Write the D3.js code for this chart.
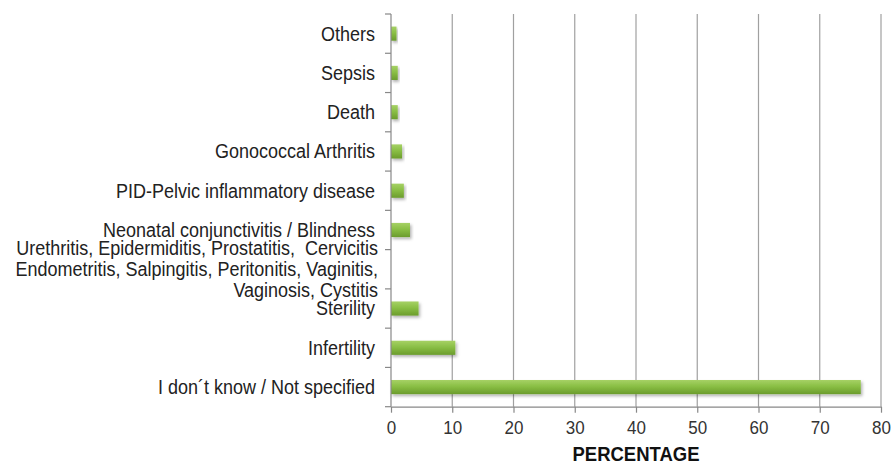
<!DOCTYPE html>
<html><head><meta charset="utf-8">
<script src="https://cdn.jsdelivr.net/npm/d3@7"></script>
<style>body{margin:0;background:#fff}svg{display:block}text{font-family:"Liberation Sans",Arial,sans-serif}</style>
</head><body><svg id="c" width="895" height="465"></svg>
<script>
const categories = ["Others","Sepsis","Death","Gonococcal Arthritis","PID-Pelvic inflammatory disease","Neonatal conjunctivitis / Blindness","Urethritis, Epidermiditis, Prostatitis,  Cervicitis\nEndometritis, Salpingitis, Peritonitis, Vaginitis,\nVaginosis, Cystitis","Sterility","Infertility","I don´t know / Not specified"];
const values = [0.9,1.1,1.1,1.8,2.1,3.1,0,4.5,10.5,76.7];
const xTicks = [0,10,20,30,40,50,60,70,80];
const xTitle = "PERCENTAGE";

const svg = d3.select("#c");
const defs = svg.append("defs");
const g1 = defs.append("linearGradient").attr("id","bg").attr("x1",0).attr("y1",0).attr("x2",0).attr("y2",1);
g1.append("stop").attr("offset","0%").attr("stop-color","#a6d165");
g1.append("stop").attr("offset","45%").attr("stop-color","#8abf45");
g1.append("stop").attr("offset","100%").attr("stop-color","#6b9c2c");
const f = defs.append("filter").attr("id","sh").attr("x","-10%").attr("y","-50%").attr("width","130%").attr("height","250%");
f.append("feDropShadow").attr("dx",1.5).attr("dy",2).attr("stdDeviation",1.5).attr("flood-color","#000").attr("flood-opacity",0.3);

const x = d3.scaleLinear().domain([0,80]).range([391,881]);
const y = d3.scaleBand().domain(categories).range([14,406.7]).paddingInner(0.64).paddingOuter(0.32);
const SY = 1.1;

// gridlines
svg.append("g").selectAll("line").data(xTicks.filter(d=>d>0)).join("line")
  .attr("x1",d=>x(d)).attr("x2",d=>x(d)).attr("y1",14).attr("y2",406.7)
  .attr("stroke","#a0a0a0").attr("stroke-width",1.2);

// bars
svg.append("g").selectAll("rect").data(categories).join("rect")
  .attr("x",x(0)).attr("y",d=>y(d)).attr("height",y.bandwidth())
  .attr("width",(d,i)=>x(values[i])-x(0))
  .attr("fill","url(#bg)").attr("filter","url(#sh)");

// y axis
const step = y.step();
const bounds = categories.map(d=>y(d)-step*0.32).concat([y(categories[categories.length-1])+y.bandwidth()+step*0.32]);
const ya = svg.append("g");
ya.append("line").attr("x1",391).attr("x2",391).attr("y1",14).attr("y2",406.7).attr("stroke","#888").attr("stroke-width",1.2);
ya.selectAll("line.t").data(bounds).join("line").attr("class","t")
  .attr("x1",385).attr("x2",391).attr("y1",d=>d).attr("y2",d=>d).attr("stroke","#888").attr("stroke-width",1.2);
const labs = ya.selectAll("text").data(categories).join("text")
  .attr("text-anchor","end").attr("font-size",18).attr("fill","#222")
  .attr("transform",d=>`translate(${d.includes("\n")?378:375},${y(d)+y.bandwidth()/2}) scale(1,${SY})`);
labs.each(function(d){
  const lines=d.split("\n"); const t=d3.select(this); const lh=19;
  lines.forEach((l,i)=>t.append("tspan").attr("x",0).attr("y",(i-(lines.length-1)/2)*lh).attr("dy","0.35em").attr("xml:space","preserve").text(l));
});

// x axis
const xa = svg.append("g").attr("transform","translate(0,406.7)")
  .call(d3.axisBottom(x).tickValues(xTicks).tickSize(6).tickPadding(7).tickSizeOuter(0));
xa.select(".domain").attr("stroke","#888").attr("stroke-width",1.2);
xa.selectAll(".tick line").attr("stroke","#888").attr("stroke-width",1.2);
xa.selectAll("text").attr("font-size",17).attr("fill","#333").attr("font-family","Liberation Sans, Arial, sans-serif")
  .attr("transform",`scale(1,${SY})`);

svg.append("text").attr("text-anchor","middle")
  .attr("transform",`translate(${(x(0)+x(80))/2},461) scale(1,${SY})`)
  .attr("font-size",18.5).attr("font-weight","bold").attr("fill","#111").text(xTitle);
</script></body></html>
